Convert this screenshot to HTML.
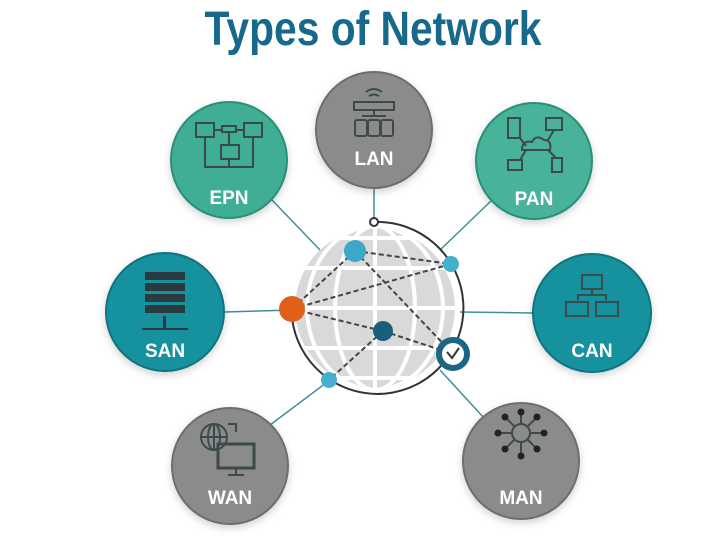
<!DOCTYPE html>
<html><head><meta charset="utf-8"><style>
html,body{margin:0;padding:0;background:#fff;width:714px;height:536px;overflow:hidden}
svg{display:block}
.lbl{font-family:"Liberation Sans",sans-serif;font-weight:bold;font-size:19px;fill:#fff;text-anchor:middle}
.ic{fill:none;stroke:#3d4a4a;stroke-width:2}
</style></head><body>
<svg width="714" height="536" viewBox="0 0 714 536" xmlns="http://www.w3.org/2000/svg">
<defs>
<filter id="sh" x="-30%" y="-30%" width="160%" height="160%"><feDropShadow dx="0" dy="3" stdDeviation="4" flood-color="#000" flood-opacity="0.18"/></filter>
<clipPath id="gc"><circle cx="375" cy="308" r="80"/></clipPath>
</defs>
<text x="373" y="45" font-family="Liberation Sans,sans-serif" font-weight="bold" font-size="48" fill="#16698a" text-anchor="middle" transform="translate(373 0) scale(0.85 1) translate(-373 0)">Types of Network</text>

<g stroke="#3f8f99" stroke-width="1.5">
<line x1="374" y1="188" x2="374" y2="222"/>
<line x1="272" y1="200" x2="320" y2="250"/>
<line x1="492" y1="200" x2="440" y2="250"/>
<line x1="225" y1="312" x2="292" y2="310"/>
<line x1="460" y1="312" x2="533" y2="313"/>
<line x1="270" y1="425" x2="330" y2="380"/>
<line x1="440" y1="370" x2="484" y2="418"/>
</g>

<g clip-path="url(#gc)">
<circle cx="375" cy="308" r="80" fill="#d9d9d9"/>
<g stroke="#fff" stroke-width="4" fill="none">
<line x1="290" y1="268" x2="460" y2="268"/>
<line x1="290" y1="308" x2="460" y2="308"/>
<line x1="290" y1="348" x2="460" y2="348"/>
<line x1="290" y1="238" x2="460" y2="238"/>
<line x1="290" y1="378" x2="460" y2="378"/>
<line x1="375" y1="220" x2="375" y2="400"/>
<ellipse cx="375" cy="308" rx="40" ry="82"/>
<ellipse cx="375" cy="308" rx="68" ry="82"/>
</g>
</g>
<path d="M 374 222 A 86 86 0 1 1 292 318" fill="none" stroke="#333" stroke-width="2"/>
<circle cx="374" cy="222" r="4" fill="#fff" stroke="#333" stroke-width="2"/>
<g stroke="#444" stroke-width="2" stroke-dasharray="5 3" fill="none">
<line x1="355" y1="251" x2="451" y2="264"/>
<line x1="355" y1="251" x2="292" y2="309"/>
<line x1="355" y1="251" x2="453" y2="354"/>
<line x1="292" y1="309" x2="451" y2="264"/>
<line x1="292" y1="309" x2="383" y2="331"/>
<line x1="383" y1="331" x2="453" y2="354"/>
<line x1="383" y1="331" x2="329" y2="380"/>
</g>
<circle cx="355" cy="251" r="11" fill="#3aa8c6"/>
<circle cx="451" cy="264" r="8" fill="#44b0cc"/>
<circle cx="292" cy="309" r="13" fill="#e0601a"/>
<circle cx="383" cy="331" r="10" fill="#175f7a"/>
<circle cx="453" cy="354" r="14" fill="#fff" stroke="#1d6585" stroke-width="6"/>
<path d="M447 352 l5 6 l7 -10" stroke="#333" stroke-width="2" fill="none"/>
<circle cx="329" cy="380" r="8" fill="#44b0cc"/>

<g filter="url(#sh)">
<circle cx="374" cy="130" r="58" fill="#8b8b8b" stroke="#6e6e6e" stroke-width="2"/>
<circle cx="229" cy="160" r="58" fill="#3fae95" stroke="#2b8f78" stroke-width="2"/>
<circle cx="534" cy="161" r="58" fill="#48b29a" stroke="#2b8f78" stroke-width="2"/>
<circle cx="165" cy="312" r="59" fill="#16919e" stroke="#0f7580" stroke-width="2"/>
<circle cx="592" cy="313" r="59" fill="#16919e" stroke="#0f7580" stroke-width="2"/>
<circle cx="230" cy="466" r="58" fill="#8b8b8b" stroke="#6e6e6e" stroke-width="2"/>
<circle cx="521" cy="461" r="58" fill="#8b8b8b" stroke="#6e6e6e" stroke-width="2"/>
</g>
<text class="lbl" x="374" y="165">LAN</text>
<text class="lbl" x="229" y="204">EPN</text>
<text class="lbl" x="534" y="205">PAN</text>
<text class="lbl" x="165" y="357">SAN</text>
<text class="lbl" x="592" y="357">CAN</text>
<text class="lbl" x="230" y="504">WAN</text>
<text class="lbl" x="521" y="504">MAN</text>

<g class="ic">
<rect x="354" y="102" width="40" height="8"/>
<path d="M366 92 q8 -6 16 0 M369 96 q5 -3 10 0"/>
<line x1="374" y1="110" x2="374" y2="116"/><line x1="362" y1="116" x2="386" y2="116"/>
<rect x="355" y="120" width="12" height="16" rx="2"/><rect x="368" y="120" width="12" height="16" rx="2"/><rect x="381" y="120" width="12" height="16" rx="2"/>
<rect x="196" y="123" width="18" height="14"/><rect x="244" y="123" width="18" height="14"/><rect x="221" y="145" width="18" height="14"/>
<rect x="222" y="126" width="14" height="6"/><path d="M214 130 h8 M236 130 h8 M229 132 v13"/>
<path d="M205 137 v30 h48 v-30 M229 159 v8"/>
<rect x="508" y="118" width="12" height="20"/><rect x="546" y="118" width="16" height="12"/>
<path d="M522 150 q0 -10 10 -8 q4 -8 12 -2 q8 0 6 10 z"/>
<rect x="508" y="160" width="14" height="10"/><rect x="552" y="158" width="10" height="14"/>
<path d="M520 138 l6 8 M554 130 l-6 10 M520 160 l6 -10 M556 158 l-8 -8"/>
<rect x="582" y="275" width="20" height="14"/><path d="M592 289 v6 M578 300 v-5 h28 v5"/>
<rect x="566" y="302" width="22" height="14"/><rect x="596" y="302" width="22" height="14"/>
<circle cx="214" cy="437" r="13"/><path d="M201 437 h26 M214 424 v26"/><ellipse cx="214" cy="437" rx="6" ry="13"/>
<rect x="218" y="444" width="36" height="24" stroke-width="3"/><path d="M236 468 v6 M228 475 h16 M228 424 h8 v8"/>
<circle cx="521" cy="433" r="9"/>
<path d="M521 424 v-10 M521 442 v12 M512 433 h-12 M530 433 h12 M514 426 l-8 -8 M528 426 l8 -8 M514 440 l-8 8 M528 440 l8 8"/>
</g>
<g fill="#2b3a3f">
<rect x="145" y="272" width="40" height="8"/><rect x="145" y="283" width="40" height="8"/><rect x="145" y="294" width="40" height="8"/><rect x="145" y="305" width="40" height="8"/>
<rect x="142" y="328" width="46" height="2"/><rect x="163" y="316" width="3" height="14"/>
</g>
<g fill="#222">
<circle cx="521" cy="412" r="3.5"/><circle cx="521" cy="456" r="3.5"/><circle cx="498" cy="433" r="3.5"/><circle cx="544" cy="433" r="3.5"/>
<circle cx="505" cy="417" r="3.5"/><circle cx="537" cy="417" r="3.5"/><circle cx="505" cy="449" r="3.5"/><circle cx="537" cy="449" r="3.5"/>
</g>
</svg>
</body></html>
